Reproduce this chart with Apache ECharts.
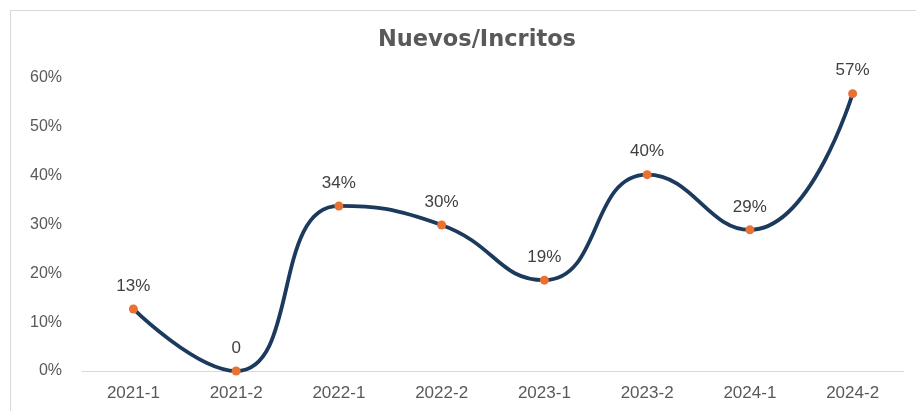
<!DOCTYPE html>
<html>
<head>
<meta charset="utf-8">
<script src="https://cdn.jsdelivr.net/npm/echarts@6/dist/echarts.min.js"></script>
<style>
  html, body { margin: 0; padding: 0; background: #fff; }
  #frame { position: absolute; left: 10px; top: 10px; width: 920px; height: 420px; border: 1px solid #d9d9d9; }
  #chart { position: absolute; left: 0; top: 0; width: 916px; height: 411px; }
</style>
</head>
<body>
<div id="frame"></div>
<div id="chart"></div>
<script>
// periodos
var periodos = ['2021-1', '2021-2', '2022-1', '2022-2', '2023-1', '2023-2', '2024-1', '2024-2'];
// proporción de nuevos / inscritos
var nuevos = [0.127, 0, 0.338, 0.299, 0.186, 0.402, 0.289, 0.568];
var yTicks = [0, 0.1, 0.2, 0.3, 0.4, 0.5, 0.6];

var chart = echarts.init(document.getElementById('chart'), null, { renderer: 'canvas' });

var option = {
  backgroundColor: 'transparent',
  title: {
    text: 'Nuevos/Incritos',
    left: 472,
    top: 24,
    textAlign: 'center',
    textStyle: {
      fontFamily: 'DejaVu Sans, sans-serif',
      fontSize: 22.5,
      fontWeight: 'bold',
      color: '#595959'
    }
  },
  grid: { left: 82, right: 12, top: 78, bottom: 40 },
  xAxis: {
    type: 'category',
    data: periodos,
    boundaryGap: true,
    axisLine: { lineStyle: { color: '#d9d9d9', width: 1 } },
    axisTick: { show: false },
    axisLabel: {
      color: '#595959',
      fontFamily: 'Liberation Sans, Arial, sans-serif',
      fontSize: 17,
      margin: 14
    }
  },
  yAxis: {
    type: 'value',
    min: yTicks[0],
    max: yTicks[yTicks.length - 1],
    interval: 0.1,
    splitLine: { show: false },
    axisLine: { show: false },
    axisTick: { show: false },
    axisLabel: {
      color: '#595959',
      fontFamily: 'Liberation Sans, Arial, sans-serif',
      fontSize: 16,
      margin: 20,
      formatter: function (v) { return Math.round(v * 100) + '%'; }
    }
  },
  series: [{
    type: 'line',
    data: nuevos,
    smooth: 0.5,
    symbol: 'circle',
    symbolSize: 9,
    itemStyle: { color: '#E97132' },
    lineStyle: { color: '#1B3A5E', width: 3.8 },
    z: 3,
    label: {
      show: true,
      position: 'top',
      distance: 10,
      color: '#404040',
      fontFamily: 'Liberation Sans, Arial, sans-serif',
      fontSize: 17,
      formatter: function (p) {
        return p.value === 0 ? '0' : Math.round(p.value * 100) + '%';
      }
    }
  }]
};

chart.setOption(option);
</script>
</body>
</html>
